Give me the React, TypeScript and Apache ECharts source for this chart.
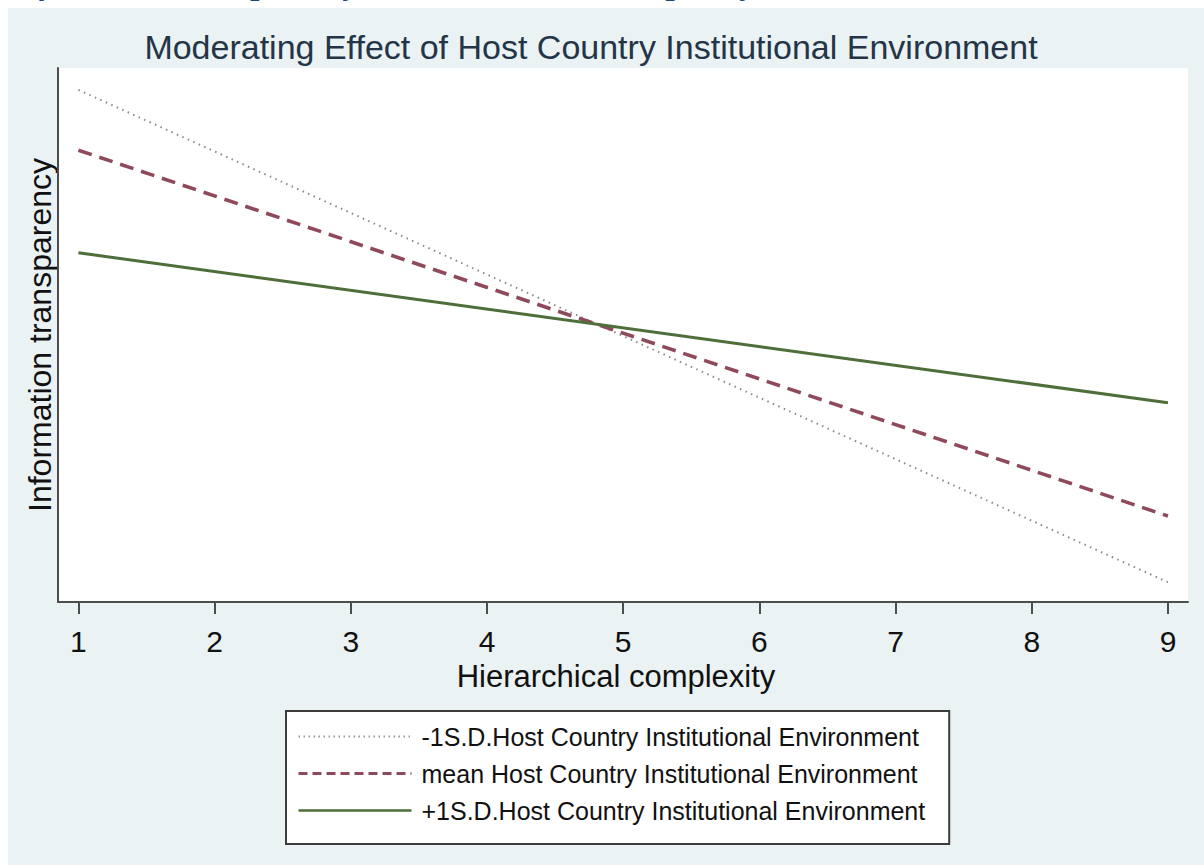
import React, { useEffect, useRef } from "react";
import * as echarts from "echarts";

const xValues = [1, 9];
const lowSD = [95.9, 3.7];
const meanVals = [84.6, 16.1];
const highSD = [65.4, 37.3];
const xTicks = [1, 2, 3, 4, 5, 6, 7, 8, 9];
const seriesNames = [
  "-1S.D.Host Country Institutional Environment",
  "mean Host Country Institutional Environment",
  "+1S.D.Host Country Institutional Environment",
];
const chartTitle = "Moderating Effect of Host Country Institutional Environment";
const xName = "Hierarchical complexity";
const yName = "Information transparency";
const captionText = "Information transparency and Hierarchical complexity";

const FONT = "'Liberation Sans', Arial, sans-serif";
const COLORS = ["#8a8a8a", "#8E4A5A", "#4E6E3A"];

export default function App() {
  const ref = useRef<HTMLDivElement>(null);
  useEffect(() => {
    if (!ref.current) return;
    const chart = echarts.init(ref.current, undefined, { renderer: "svg" });
    const toPts = (ys: number[]) => xValues.map((x, i) => [x, ys[i]]);
    chart.setOption({
      animation: false,
      backgroundColor: "#EAF2F3",
      title: {
        text: chartTitle,
        left: 591,
        top: 30,
        textAlign: "center",
        padding: 0,
        textStyle: { fontFamily: FONT, fontSize: 34, fontWeight: "normal", color: "#243548" },
      },
      grid: {
        left: 58,
        right: 16,
        top: 68,
        bottom: 264,
        show: true,
        backgroundColor: "#ffffff",
        borderWidth: 0,
      },
      xAxis: {
        type: "value",
        min: 0.85,
        max: 9.147,
        name: xName,
        nameLocation: "middle",
        nameGap: 44,
        nameTextStyle: { fontFamily: FONT, fontSize: 31, color: "#111", padding: [0, 14, 0, 0] },
        axisLine: { show: true, lineStyle: { color: "#4d4d4d", width: 2 } },
        axisTick: { show: true, length: 12, lineStyle: { color: "#4d4d4d", width: 2 }, customValues: xTicks },
        axisLabel: { fontFamily: FONT, fontSize: 30, color: "#111", margin: 24, customValues: xTicks },
        splitLine: { show: false },
      },
      yAxis: {
        type: "value",
        min: 0,
        max: 100,
        name: yName,
        nameLocation: "middle",
        nameGap: 2,
        nameTextStyle: { fontFamily: FONT, fontSize: 32, color: "#111" },
        axisLine: { show: true, lineStyle: { color: "#4d4d4d", width: 2 } },
        axisTick: { show: false },
        axisLabel: { show: false },
        splitLine: { show: false },
      },
      legend: {
        orient: "vertical",
        left: 286,
        top: 711,
        padding: [13, 24, 21, 11],
        itemWidth: 113,
        itemHeight: 26,
        itemGap: 12,
        backgroundColor: "#ffffff",
        borderColor: "#3c3c3c",
        borderWidth: 2,
        itemStyle: { opacity: 0, borderWidth: 0 },
        textStyle: { fontFamily: FONT, fontSize: 25, color: "#111", padding: [0, 0, 0, 5] },
        data: [
          { name: seriesNames[0], lineStyle: { color: "#9a9a9a", width: 2, type: [1.5, 3.5] } },
          { name: seriesNames[1], lineStyle: { color: COLORS[1], width: 3, type: [9, 5] } },
          { name: seriesNames[2], lineStyle: { color: COLORS[2], width: 2.5, type: "solid" } },
        ],
      },
      graphic: [
        { type: "rect", shape: { x: 0, y: 0, width: 8, height: 866 }, style: { fill: "#fff" }, z: 100 },
        { type: "rect", shape: { x: 0, y: 0, width: 1204, height: 8 }, style: { fill: "#fff" }, z: 100 },
        { type: "rect", shape: { x: 0, y: 865, width: 1204, height: 1 }, style: { fill: "#fff" }, z: 100 },
        {
          type: "text",
          x: 8,
          y: -1,
          z: 101,
          style: {
            text: captionText,
            font: "italic bold 33px 'Liberation Serif', 'Times New Roman', serif",
            fill: "#1F497D",
            verticalAlign: "bottom",
          },
        },
      ],
      series: [
        {
          name: seriesNames[0],
          type: "line",
          data: toPts(lowSD),
          symbol: "none",
          lineStyle: { color: COLORS[0], width: 2, type: [1.5, 4.5] },
          itemStyle: { color: COLORS[0] },
        },
        {
          name: seriesNames[1],
          type: "line",
          data: toPts(meanVals),
          symbol: "none",
          lineStyle: { color: COLORS[1], width: 3.5, type: [14, 8] },
          itemStyle: { color: COLORS[1] },
        },
        {
          name: seriesNames[2],
          type: "line",
          data: toPts(highSD),
          symbol: "none",
          lineStyle: { color: COLORS[2], width: 3 },
          itemStyle: { color: COLORS[2] },
        },
      ],
    });
    return () => chart.dispose();
  }, []);
  return (
    <div
      ref={ref}
      style={{ position: "fixed", left: 0, top: 0, width: 1204, height: 866 }}
    />
  );
}
